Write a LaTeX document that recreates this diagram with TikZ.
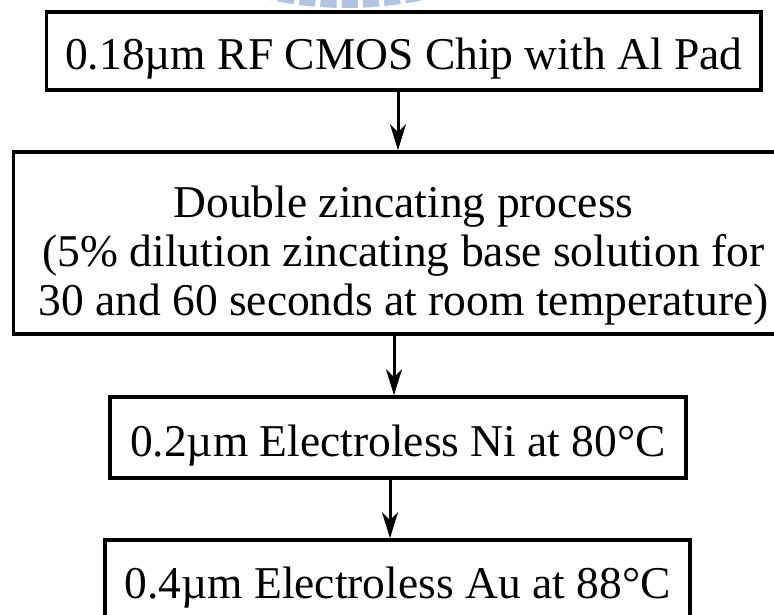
\documentclass[tikz,border=0pt]{standalone}
\usepackage{fontspec}
\setmainfont{Liberation Serif}
\usepackage{tikz}
\usetikzlibrary{arrows.meta, positioning}
\definecolor{flow-black}{HTML}{000000}
\definecolor{mark-blue}{HTML}{B0C4E4}

\begin{document}
\begin{tikzpicture}[
		x=1pt, y=-1pt,
		stepbox/.style={
			draw=flow-black, fill=white,
			line width=3.6pt,
			inner sep=0pt,
			align=center,
			text height=37pt, text depth=0pt,
			font=\fontsize{45.5}{49}\selectfont
		},
		flow/.style={
			draw=flow-black, line width=3pt,
			-{Stealth[length=26pt, width=16pt, inset=8pt]}
		},
		watermark/.style={
			draw=mark-blue, line width=17pt,
			dash pattern=on 16pt off 5pt
		}
		]
		
		\clip (0,0) rectangle (774,614);
		\fill[white] (0,0) rectangle (774,614);
		
		% watermark
		\begin{scope}[y=1pt]
			\draw[watermark] (346.5,364) ++(-104:363.5) arc[start angle=-104, end angle=-76, radius=363.5];
		\end{scope}
		
		% chip
		\node[stepbox, minimum width=714.5pt, minimum height=78pt] (chip) at (403.75,51)
		{0.18µm RF CMOS Chip with Al Pad};
		
		% zincating
		\node[stepbox, text height=144pt, minimum width=780pt, minimum height=182pt] (zinc) at (403.5,243)
		{Double zincating process\\(5\% dilution zincating base solution for\\30 and 60 seconds at room temperature)};
		
		% nickel
		\node[stepbox, minimum width=576pt, minimum height=81pt] (ni) at (398,437.5)
		{0.2µm Electroless Ni at 80°C};
		
		% gold
		\node[stepbox, minimum width=585pt, minimum height=80pt] (au) at (397.5,580)
		{0.4µm Electroless Au at 88°C};
		
		% arrows
		\coordinate (a1) at (398,0);
		\coordinate (a2) at (394,0);
		\coordinate (a3) at (390,0);
		\draw[flow] (chip.south -| a1) -- (zinc.north -| a1);
		\draw[flow] (zinc.south -| a2) -- (ni.north -| a2);
		\draw[flow] (ni.south -| a3) -- (au.north -| a3);
		
	\end{tikzpicture}
\end{document}
